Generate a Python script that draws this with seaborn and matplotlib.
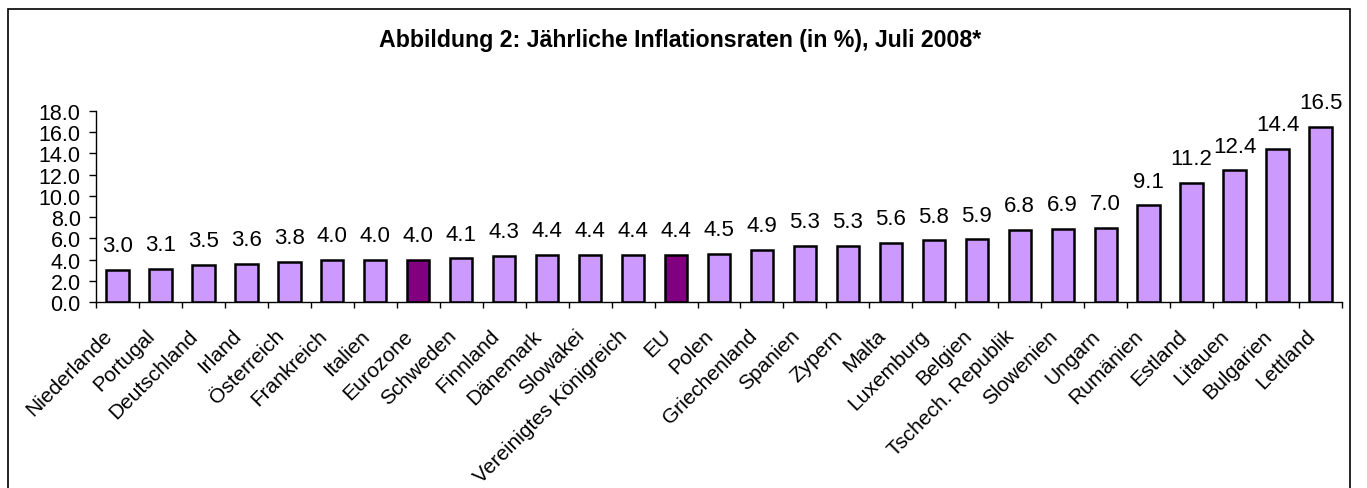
import matplotlib
matplotlib.use("Agg")
import matplotlib.pyplot as plt
import seaborn as sns
import pandas as pd
from matplotlib.patches import Rectangle
from matplotlib.transforms import ScaledTranslation

countries = ["Niederlande", "Portugal", "Deutschland", "Irland", "Österreich", "Frankreich",
             "Italien", "Eurozone", "Schweden", "Finnland", "Dänemark", "Slowakei",
             "Vereinigtes Königreich", "EU", "Polen", "Griechenland", "Spanien", "Zypern",
             "Malta", "Luxemburg", "Belgien", "Tschech. Republik", "Slowenien", "Ungarn",
             "Rumänien", "Estland", "Litauen", "Bulgarien", "Lettland"]
values = [3.0, 3.1, 3.5, 3.6, 3.8, 4.0, 4.0, 4.0, 4.1, 4.3, 4.4, 4.4, 4.4, 4.4, 4.5,
          4.9, 5.3, 5.3, 5.6, 5.8, 5.9, 6.8, 6.9, 7.0, 9.1, 11.2, 12.4, 14.4, 16.5]
highlight = ["Eurozone", "EU"]
yticks = [0, 2, 4, 6, 8, 10, 12, 14, 16, 18]
title = "Abbildung 2: Jährliche Inflationsraten (in %), Juli 2008*"

sns.set_theme(style="white")
plt.rcParams['font.family'] = ['Liberation Sans', 'DejaVu Sans']
plt.rcParams['text.color'] = 'black'
plt.rcParams['xtick.color'] = 'black'
plt.rcParams['ytick.color'] = 'black'

light = "#CC99FF"
dark = "#800080"
palette = [dark if c in highlight else light for c in countries]

df = pd.DataFrame({"Land": countries, "Rate": values})

fig = plt.figure(figsize=(13.67, 4.89), dpi=100)
fig.patch.set_facecolor("white")
ax = fig.add_axes([96/1367, 186/489, (1342-96)/1367, (377-186)/489])

sns.barplot(data=df, x="Land", y="Rate", hue="Land", palette=palette, legend=False,
            width=0.52, edgecolor="black", linewidth=1.8, saturation=1, ax=ax)

for cont in ax.containers:
    ax.bar_label(cont, fmt="%.1f", padding=10, fontsize=16, color="black")

ax.set_ylim(0, 18)
ax.set_xlim(-0.5, len(countries) - 0.5)
ax.set_yticks(yticks)
ax.set_yticklabels([f"{v:.1f}" for v in yticks], fontsize=15.5)
ax.set_xlabel("")
ax.set_ylabel("")
ax.set_xticks(range(len(countries)))
ax.set_xticklabels(countries, rotation=45, ha="right", va="top", rotation_mode="anchor", fontsize=15)
ax.tick_params(axis="x", length=0, pad=17)
ax.tick_params(axis="y", length=5, width=1, color="black", direction="out", left=True, pad=6)
ax.set_xticks([i - 0.5 for i in range(len(countries) + 1)], minor=True)
ax.tick_params(axis="x", which="minor", length=4, width=1, color="black", direction="out", bottom=True)

offset = ScaledTranslation(-0.15, 0, fig.dpi_scale_trans)
for lab in ax.get_xticklabels():
    lab.set_transform(lab.get_transform() + offset)

for s in ["top", "right"]:
    ax.spines[s].set_visible(False)
for s in ["left", "bottom"]:
    ax.spines[s].set_color("black")
    ax.spines[s].set_linewidth(1)
ax.set_facecolor("white")

fig.text(680/1367, 1 - 40/489, title, ha="center", va="center", fontsize=16.7, fontweight="bold")

fig.add_artist(Rectangle((8/1367, -0.1), (1350-8)/1367, 1.1 - 10/489, transform=fig.transFigure,
                         fill=False, edgecolor="black", linewidth=1.2))

fig.savefig("out.png", dpi=100, facecolor="white")
